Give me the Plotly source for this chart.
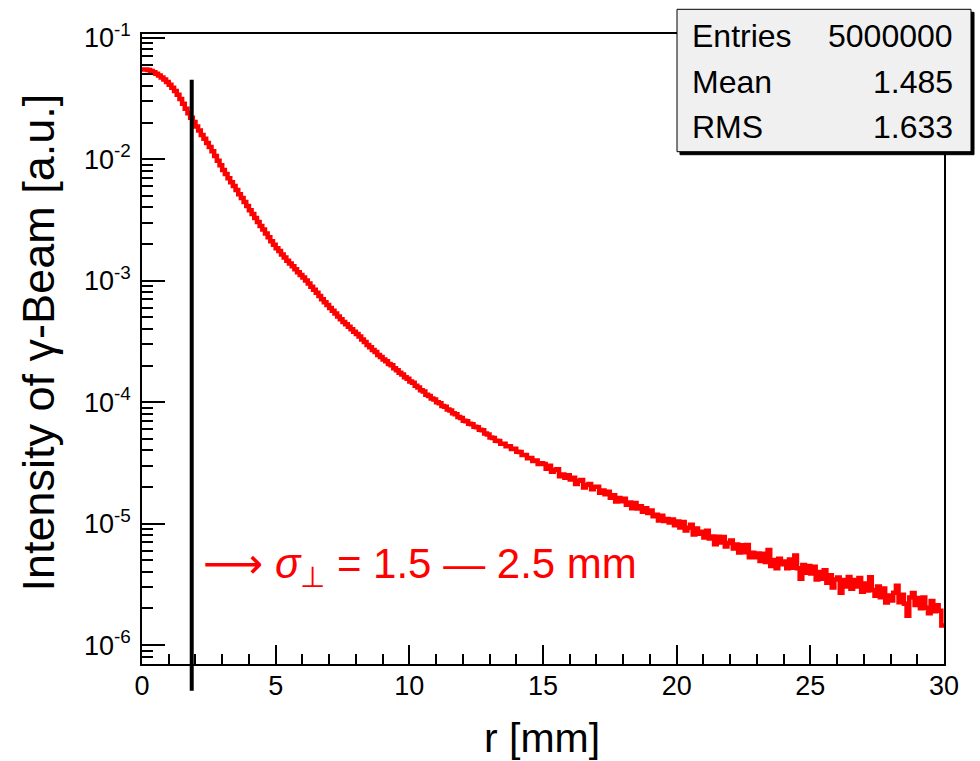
import numpy as np
import plotly.graph_objects as go

# ---------------- data ----------------
r_min, r_max, n_bins = 0.0, 30.0, 300          # histogram binning in r [mm]

intensity = [
    # 0 - 1 mm
    5.47e-2, 5.46e-2, 5.41e-2, 5.31e-2, 5.19e-2, 5.05e-2, 4.88e-2, 4.70e-2, 4.52e-2, 4.32e-2,
    # 1 - 2
    4.10e-2, 3.87e-2, 3.63e-2, 3.39e-2, 3.13e-2, 2.85e-2, 2.60e-2, 2.39e-2, 2.19e-2, 2.02e-2,
    # 2 - 3
    1.86e-2, 1.72e-2, 1.58e-2, 1.47e-2, 1.36e-2, 1.26e-2, 1.16e-2, 1.06e-2, 9.70e-3, 8.91e-3,
    # 3 - 4
    8.13e-3, 7.53e-3, 6.97e-3, 6.46e-3, 6.00e-3, 5.56e-3, 5.15e-3, 4.79e-3, 4.44e-3, 4.11e-3,
    # 4 - 5
    3.80e-3, 3.53e-3, 3.27e-3, 3.03e-3, 2.82e-3, 2.63e-3, 2.44e-3, 2.27e-3, 2.11e-3, 1.97e-3,
    # 5 - 6
    1.85e-3, 1.75e-3, 1.64e-3, 1.55e-3, 1.46e-3, 1.38e-3, 1.31e-3, 1.24e-3, 1.17e-3, 1.11e-3,
    # 6 - 7
    1.06e-3, 1.00e-3, 9.46e-4, 8.91e-4, 8.39e-4, 7.94e-4, 7.46e-4, 7.03e-4, 6.64e-4, 6.31e-4,
    # 7 - 8
    5.96e-4, 5.65e-4, 5.35e-4, 5.06e-4, 4.81e-4, 4.57e-4, 4.37e-4, 4.17e-4, 3.98e-4, 3.80e-4,
    # 8 - 9
    3.63e-4, 3.47e-4, 3.27e-4, 3.13e-4, 2.95e-4, 2.83e-4, 2.68e-4, 2.58e-4, 2.44e-4, 2.35e-4,
    # 9 - 10
    2.24e-4, 2.17e-4, 2.06e-4, 2.01e-4, 1.90e-4, 1.83e-4, 1.74e-4, 1.69e-4, 1.60e-4, 1.56e-4,
    # 10 - 11
    1.48e-4, 1.44e-4, 1.36e-4, 1.32e-4, 1.25e-4, 1.22e-4, 1.15e-4, 1.12e-4, 1.07e-4, 1.05e-4,
    # 11 - 12
    9.95e-5, 9.78e-5, 9.30e-5, 9.15e-5, 8.68e-5, 8.52e-5, 8.10e-5, 7.95e-5, 7.55e-5, 7.40e-5,
    # 12 - 13
    7.02e-5, 6.95e-5, 6.62e-5, 6.58e-5, 6.26e-5, 6.22e-5, 5.93e-5, 5.85e-5, 5.52e-5, 5.42e-5,
    # 13 - 14
    5.12e-5, 5.06e-5, 4.80e-5, 4.78e-5, 4.55e-5, 4.55e-5, 4.32e-5, 4.33e-5, 4.11e-5, 4.12e-5,
    # 14 - 15
    3.90e-5, 3.89e-5, 3.66e-5, 3.66e-5, 3.45e-5, 3.46e-5, 3.27e-5, 3.30e-5, 3.10e-5, 3.13e-5,
    # 15 - 16
    3.09e-5, 2.83e-5, 2.99e-5, 2.67e-5, 2.76e-5, 2.80e-5, 2.45e-5, 2.54e-5, 2.38e-5, 2.50e-5,
    # 16 - 17
    2.31e-5, 2.38e-5, 2.12e-5, 2.25e-5, 2.28e-5, 1.98e-5, 2.08e-5, 2.12e-5, 1.92e-5, 2.01e-5,
    # 17 - 18
    2.01e-5, 1.79e-5, 1.87e-5, 1.74e-5, 1.83e-5, 1.63e-5, 1.71e-5, 1.52e-5, 1.62e-5, 1.53e-5,
    # 18 - 19
    1.60e-5, 1.43e-5, 1.49e-5, 1.34e-5, 1.48e-5, 1.33e-5, 1.39e-5, 1.25e-5, 1.34e-5, 1.22e-5,
    # 19 - 20
    1.28e-5, 1.15e-5, 1.18e-5, 1.06e-5, 1.16e-5, 1.05e-5, 1.09e-5, 1.02e-5, 1.08e-5, 9.69e-6,
    # 20 - 21
    1.04e-5, 9.30e-6, 1.03e-5, 8.76e-6, 9.23e-6, 9.76e-6, 8.14e-6, 9.10e-6, 8.24e-6, 8.57e-6,
    # 21 - 22
    7.68e-6, 8.72e-6, 7.52e-6, 7.82e-6, 6.77e-6, 7.80e-6, 6.99e-6, 7.77e-6, 6.46e-6, 6.91e-6,
    # 22 - 23
    7.27e-6, 6.22e-6, 6.72e-6, 5.77e-6, 6.63e-6, 5.80e-6, 6.65e-6, 5.27e-6, 5.76e-6, 5.29e-6,
    # 23 - 24
    5.67e-6, 4.91e-6, 5.65e-6, 4.82e-6, 6.06e-6, 4.47e-6, 5.02e-6, 4.28e-6, 5.13e-6, 4.62e-6,
    # 24 - 25
    4.87e-6, 4.29e-6, 5.05e-6, 4.33e-6, 5.45e-6, 4.29e-6, 3.52e-6, 4.56e-6, 3.93e-6, 4.47e-6,
    # 25 - 26
    3.89e-6, 4.41e-6, 3.46e-6, 4.00e-6, 3.51e-6, 4.13e-6, 3.25e-6, 3.75e-6, 2.98e-6, 3.47e-6,
    # 26 - 27
    3.60e-6, 2.70e-6, 3.43e-6, 3.03e-6, 3.63e-6, 2.91e-6, 3.43e-6, 3.04e-6, 3.57e-6, 2.75e-6,
    # 27 - 28
    3.21e-6, 2.81e-6, 3.62e-6, 2.84e-6, 2.55e-6, 3.03e-6, 2.48e-6, 2.92e-6, 2.24e-6, 2.56e-6,
    # 28 - 29
    2.33e-6, 2.69e-6, 3.08e-6, 2.25e-6, 2.59e-6, 2.19e-6, 1.74e-6, 2.46e-6, 2.68e-6, 2.14e-6,
    # 29 - 30
    2.44e-6, 2.01e-6, 2.46e-6, 2.03e-6, 1.83e-6, 2.30e-6, 1.90e-6, 2.13e-6, 1.92e-6, 1.45e-6,
]

x_tick_vals = [0, 5, 10, 15, 20, 25, 30]
x_tick_text = ["0", "5", "10", "15", "20", "25", "30"]
y_decades = [-6, -5, -4, -3, -2, -1]
y_tick_text = ["10<sup>-6</sup>", "10<sup>-5</sup>", "10<sup>-4</sup>",
               "10<sup>-3</sup>", "10<sup>-2</sup>", "10<sup>-1</sup>"]

stats_labels = ["Entries", "Mean", "RMS"]
stats_values = ["5000000", "1.485", "1.633"]

marker_r = 1.86            # vertical marker position [mm]
marker_top = 4.5e-2        # marker extent in intensity units
marker_bottom = 4.2e-7

x_title = "r [mm]"
y_title = "Intensity of γ-Beam [a.u.]"
note_text = ("<span style='font-family:DejaVu Sans'>⟶</span> <i>σ</i><sub>⊥</sub>"
             " = 1.5 — 2.5 mm")

# ---------------- figure ----------------
W, H = 980, 761
ML, MR, MT, MB = 142, 36, 34, 97
PW, PH = W - ML - MR, H - MT - MB
y_range = [-6.156, -0.970]
FONT = "Liberation Sans, Arial, Helvetica, sans-serif"


def px_x(p):
    return (p - ML) / PW


def px_y(p):
    return (H - MB - p) / PH


def y_paper(v):
    return (np.log10(v) - y_range[0]) / (y_range[1] - y_range[0])


edges = np.linspace(r_min, r_max, n_bins + 1)
y_step = list(intensity) + [intensity[-1]]

fig = go.Figure()
fig.add_trace(go.Scatter(
    x=edges, y=y_step, mode="lines", line=dict(color="#ff0000", width=4.5, shape="hv"),
    showlegend=False, hoverinfo="skip"))

minor_y = [m * 10.0 ** d for d in range(-7, 0) for m in range(2, 10)]

fig.update_layout(
    width=W, height=H,
    margin=dict(l=ML, r=MR, t=MT, b=MB, autoexpand=False),
    paper_bgcolor="white", plot_bgcolor="white",
    font=dict(family=FONT, color="black"),
    showlegend=False,
    xaxis=dict(
        range=[r_min, r_max], showgrid=False, zeroline=False,
        showline=True, linecolor="black", linewidth=1.5, mirror=True,
        ticks="inside", ticklen=19, tickwidth=1.5, tickcolor="black",
        tickmode="array", tickvals=x_tick_vals, ticktext=x_tick_text,
        tickfont=dict(size=27, family=FONT, color="black"),
        ticklabelstandoff=-3,
        minor=dict(ticks="inside", ticklen=10, tickwidth=1.5, tickcolor="black", dtick=1,
                   showgrid=False),
    ),
    yaxis=dict(
        type="log", range=y_range, showgrid=False, zeroline=False,
        showline=True, linecolor="black", linewidth=1.5, mirror=True,
        ticks="inside", ticklen=23, tickwidth=1.5, tickcolor="black",
        tickmode="array", tickvals=[10.0 ** d for d in y_decades], ticktext=y_tick_text,
        tickfont=dict(size=27, family=FONT, color="black"),
        ticklabelstandoff=4,
        minor=dict(ticks="inside", ticklen=11, tickwidth=1.5, tickcolor="black",
                   tickmode="array", tickvals=minor_y, showgrid=False),
    ),
)

# vertical marker line (extends below the frame)
fig.add_shape(type="line", xref="x", yref="paper",
              x0=marker_r, x1=marker_r, y0=y_paper(marker_bottom), y1=y_paper(marker_top),
              line=dict(color="black", width=4), layer="above")

# stats box with shadow
bx0, bx1, by0, by1 = px_x(677), px_x(971), px_y(151.7), px_y(9.3)
sdx, sdy = 3 / PW, 3 / PH
fig.add_shape(type="rect", xref="paper", yref="paper",
              x0=bx0 + sdx, x1=bx1 + sdx, y0=by0 - sdy, y1=by1 - sdy,
              fillcolor="black", line=dict(color="black", width=1), layer="above")
fig.add_shape(type="rect", xref="paper", yref="paper",
              x0=bx0, x1=bx1, y0=by0, y1=by1,
              fillcolor="#f0f0f0", line=dict(color="black", width=1), layer="above")

row_y = [36, 82, 127]
for lab, val, yy in zip(stats_labels, stats_values, row_y):
    fig.add_annotation(x=px_x(690), y=px_y(yy), xref="paper", yref="paper",
                       text=lab, showarrow=False, xanchor="left", yanchor="middle",
                       font=dict(size=32, family=FONT, color="black"))
    fig.add_annotation(x=px_x(955), y=px_y(yy), xref="paper", yref="paper",
                       text=val, showarrow=False, xanchor="right", yanchor="middle",
                       font=dict(size=32, family=FONT, color="black"))

# axis titles
fig.add_annotation(x=px_x(542), y=px_y(738), xref="paper", yref="paper",
                   text=x_title, showarrow=False, xanchor="center", yanchor="middle",
                   font=dict(size=41, family=FONT, color="black"))
fig.add_annotation(x=px_x(37.5), y=px_y(343), xref="paper", yref="paper",
                   text=y_title, showarrow=False, xanchor="center", yanchor="middle",
                   textangle=-90, font=dict(size=45, family=FONT, color="black"))

# red note
fig.add_annotation(x=px_x(201), y=px_y(566), xref="paper", yref="paper",
                   text=note_text, showarrow=False, xanchor="left", yanchor="middle",
                   font=dict(size=42, family=FONT, color="#ff0000"))

fig.write_html("out.html", post_script="document.body.style.margin='0px';",
               config={"displayModeBar": False})
